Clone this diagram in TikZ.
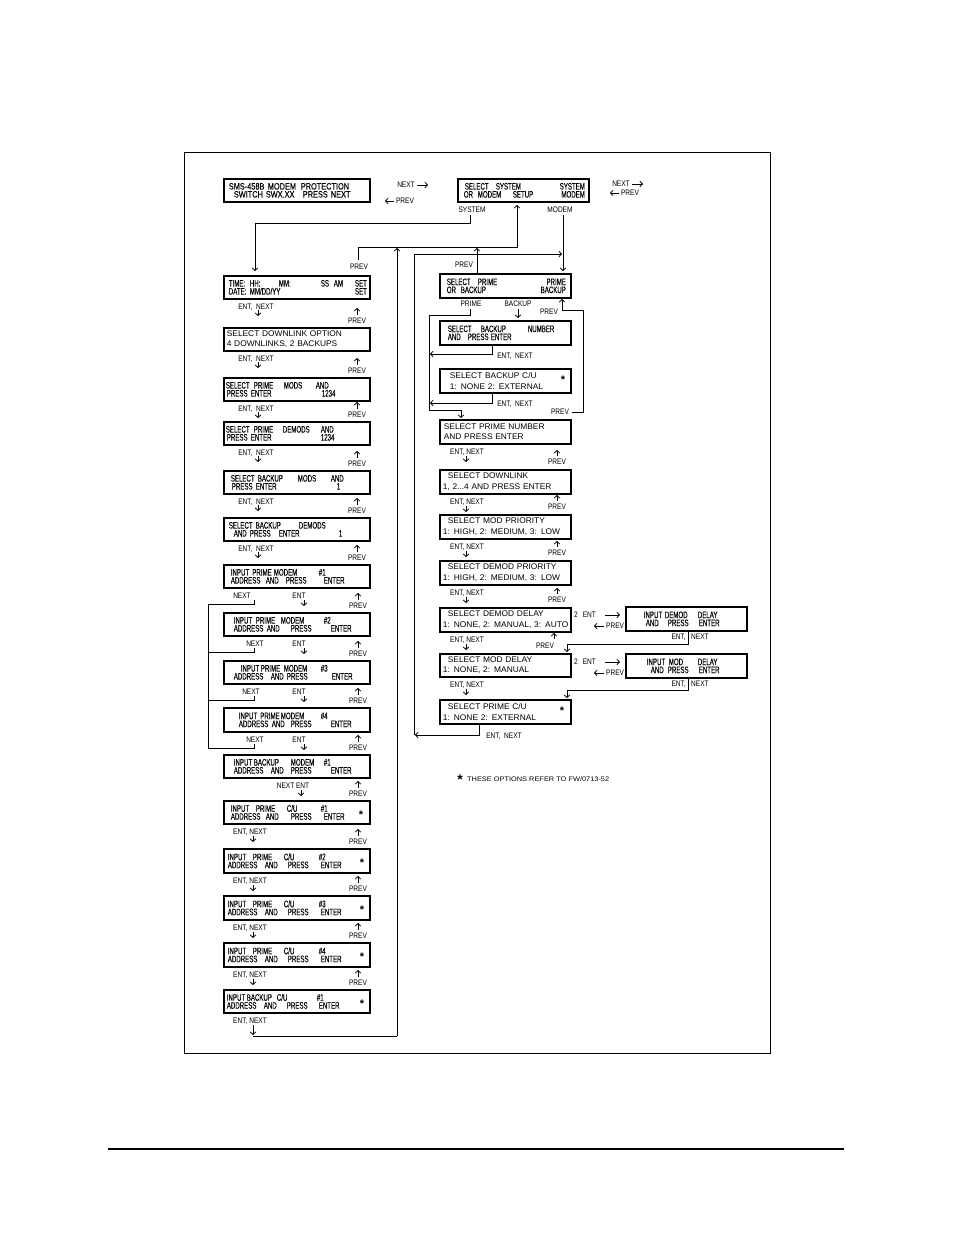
\documentclass[tikz,border=0pt]{standalone}
\usepackage{fontspec}
\setmainfont{Liberation Sans}
\newfontfamily\nf[FakeStretch=0.65,FakeBold=0.15]{Liberation Sans}
\newfontfamily\mf[FakeStretch=0.8,FakeBold=0.15]{Liberation Sans}
\newfontfamily\lf[FakeStretch=0.82]{Liberation Sans}
\newfontfamily\rf[FakeStretch=1.02]{Liberation Sans}
\newfontfamily\wf[FakeStretch=1.12]{Liberation Sans}
\usetikzlibrary{arrows.meta}
\newcommand\tp[2]{\makebox[0pt][l]{\hspace*{#1pt}#2}}
\newcommand\tpr[2]{\makebox[0pt][l]{\hspace*{#1pt}\makebox[0pt][r]{#2}}}
\newcommand\nfs{\nf\fontsize{9.4}{8}\selectfont}
\newcommand\mfs{\mf\fontsize{9.2}{8}\selectfont}
\newcommand\rfs{\rf\fontsize{8.2}{10.5}\selectfont}
\newcommand\lfs{\lf\fontsize{8}{8}\selectfont}
\newcommand\ffs{\wf\fontsize{6.6}{7}\selectfont}
\tikzset{
  bx/.style={draw, line width=1.7pt, inner sep=0pt, anchor=north west, align=left, font=\nfs},
  rbx/.style={bx, font=\rfs},
  ln/.style={line width=0.8pt},
  arr/.style={ln, -{Straight Barb[length=2.5pt,width=5.5pt]}},
  lb/.style={inner sep=0pt, font=\lfs},
  st/.style={inner sep=0pt, anchor=base, font=\bfseries\fontsize{11}{11}\selectfont},
}
\newcommand\lbox[5][bx]{\node[#1,minimum width=146pt,text width=146pt,minimum height=#4pt] (#2) at (223,#3) {#5};}
\newcommand\rbox[5][rbx]{\node[#1,minimum width=131pt,text width=131pt,minimum height=#4pt] (#2) at (439,#3) {#5};}
\begin{document}
\begin{tikzpicture}[x=1pt,y=-1pt]
\useasboundingbox (0,0) rectangle (954,1235);
\draw[line width=0.9pt] (184,152) rectangle (770,1053);
\draw[line width=1.4pt] (108,1149) -- (844,1149);

% ---- top boxes
\node[bx,font=\mfs,minimum width=146pt,text width=146pt,minimum height=23pt] (A) at (223,178) {\tp{5}{SMS-458B}\tp{44}{MODEM}\tp{77}{PROTECTION}\\\tp{10}{SWITCH}\tp{42}{SWX.XX}\tp{79}{PRESS}\tp{107}{NEXT}};
\node[bx,minimum width=131pt,text width=131pt,minimum height=23pt] (B) at (457,178) {\tp{7}{SELECT}\tp{38}{SYSTEM}\tpr{127}{SYSTEM}\\\tp{6}{OR}\tp{20}{MODEM}\tp{55}{SETUP}\tpr{127}{MODEM}};
\node[lb] (n1) at (406,185) {NEXT}; \draw[arr] (417,185) -- (428,185);
\node[lb] (p1) at (405,201) {PREV}; \draw[arr] (394,201) -- (385,201);
\node[lb] (n2) at (621,184) {NEXT}; \draw[arr] (632,184) -- (643,184);
\node[lb] (p2) at (630,193) {PREV}; \draw[arr] (619,193) -- (610,193);
\node[lb] (sysl) at (472,210) {SYSTEM};
\node[lb] (modl) at (560,210) {MODEM};

% ---- left column boxes
\lbox{L1}{275}{23}{\tp{5}{TIME:}\tp{26}{HH:}\tp{55}{MM:}\tp{97}{SS}\tp{110}{AM}\tpr{143}{SET}\\\tp{5}{DATE:}\tp{26}{MM/DD/YY}\tpr{143}{SET}}
\lbox[rbx]{L2}{327}{23}{\tp{3}{SELECT DOWNLINK OPTION}\\\tp{3}{4 DOWNLINKS, 2 BACKUPS}}
\lbox{L3}{377}{23}{\tp{2}{SELECT}\tp{30}{PRIME}\tp{60}{MODS}\tp{92}{AND}\\\tp{3}{PRESS}\tp{27}{ENTER}\tp{98}{1234}}
\lbox{L4}{421}{23}{\tp{2}{SELECT}\tp{30}{PRIME}\tp{59}{DEMODS}\tp{97}{AND}\\\tp{3}{PRESS}\tp{27}{ENTER}\tp{97}{1234}}
\lbox{L5}{470}{23}{\tp{7}{SELECT}\tp{34}{BACKUP}\tp{74}{MODS}\tp{107}{AND}\\\tp{8}{PRESS}\tp{32}{ENTER}\tp{113}{1}}
\lbox{L6}{517}{23}{\tp{5}{SELECT BACKUP}\tp{75}{DEMODS}\\\tp{10}{AND PRESS}\tp{55}{ENTER}\tp{115}{1}}
\lbox{L7}{564}{23}{\tp{7}{INPUT PRIME}\tp{50}{MODEM}\tp{95}{\#1}\\\tp{7}{ADDRESS}\tp{42}{AND}\tp{62}{PRESS}\tp{100}{ENTER}}
\lbox{L8}{612}{23}{\tp{10}{INPUT}\tp{32}{PRIME}\tp{57}{MODEM}\tp{100}{\#2}\\\tp{10}{ADDRESS}\tp{43}{AND}\tp{67}{PRESS}\tp{107}{ENTER}}
\lbox{L9}{660}{23}{\tp{17}{INPUT}\tp{37}{PRIME}\tp{60}{MODEM}\tp{97}{\#3}\\\tp{10}{ADDRESS}\tp{47}{AND PRESS}\tp{108}{ENTER}}
\lbox{L10}{707}{24}{\tp{15}{INPUT PRIME}\tp{57}{MODEM}\tp{97}{\#4}\\\tp{15}{ADDRESS}\tp{48}{AND}\tp{67}{PRESS}\tp{107}{ENTER}}
\lbox{L11}{754}{23}{\tp{10}{INPUT}\tp{30}{BACKUP}\tp{67}{MODEM}\tp{100}{\#1}\\\tp{10}{ADDRESS}\tp{47}{AND}\tp{67}{PRESS}\tp{107}{ENTER}}
\lbox{L12}{800}{23}{\tp{7}{INPUT}\tp{32}{PRIME}\tp{63}{C/U}\tp{97}{\#1}\\\tp{7}{ADDRESS}\tp{42}{AND}\tp{67}{PRESS}\tp{100}{ENTER}}
\lbox{L13}{848}{24}{\tp{4}{INPUT}\tp{29}{PRIME}\tp{60}{C/U}\tp{95}{\#2}\\\tp{4}{ADDRESS}\tp{41}{AND}\tp{64}{PRESS}\tp{97}{ENTER}}
\lbox{L14}{895}{24}{\tp{4}{INPUT}\tp{29}{PRIME}\tp{60}{C/U}\tp{95}{\#3}\\\tp{4}{ADDRESS}\tp{41}{AND}\tp{64}{PRESS}\tp{97}{ENTER}}
\lbox{L15}{942}{24}{\tp{4}{INPUT}\tp{29}{PRIME}\tp{60}{C/U}\tp{95}{\#4}\\\tp{4}{ADDRESS}\tp{41}{AND}\tp{64}{PRESS}\tp{97}{ENTER}}
\lbox{L16}{989}{23}{\tp{3}{INPUT}\tp{23}{BACKUP}\tp{53}{C/U}\tp{93}{\#1}\\\tp{3}{ADDRESS}\tp{40}{AND}\tp{63}{PRESS}\tp{95}{ENTER}}
\node[st] (s12) at (361,818) {*};
\node[st] (s13) at (362,866) {*};
\node[st] (s14) at (362,913) {*};
\node[st] (s15) at (362,960) {*};
\node[st] (s16) at (362,1007) {*};

% ---- left column labels and arrows
\foreach \yb/\yt [count=\i] in {298/327,350/377,400/421,444/470,493/517,540/564}{
  \node[lb] (enA\i) at (256,\yb+9) {ENT,\ \ NEXT};
  \draw[arr] (258,\yb+12) -- (258,\yb+18);
  \node[lb] (pvA\i) at (357,\yt-6) {PREV};
  \draw[arr] (357,\yt-12) -- (357,\yt-19);
}
\foreach \yb/\yt/\xn [count=\i] in {587/612/242,635/660/255,683/707/251,731/754/255}{
  \node[lb] (nxB\i) at (\xn,\yb+9) {NEXT};
  \node[lb] (etB\i) at (299,\yb+9) {ENT};
  \draw[arr] (304,\yb+13) -- (304,\yb+19);
  \draw[ln] (254,\yb+13) -- (254,\yb+17) -- (208,\yb+17);
  \node[lb] (pvB\i) at (358,\yt-6) {PREV};
  \draw[arr] (358,\yt-12) -- (358,\yt-19);
}
\draw[ln] (208,604) -- (208,748);
\node[lb] (nxe) at (293,786) {NEXT ENT};
\draw[arr] (301,790) -- (301,796);
\node[lb] (pvB5) at (358,794) {PREV};
\draw[arr] (358,788) -- (358,781);
\foreach \yb/\yt [count=\i] in {823/848,872/895,919/942,966/989}{
  \node[lb] (enC\i) at (250,\yb+9) {ENT, NEXT};
  \draw[arr] (253,\yb+13) -- (253,\yb+19);
  \node[lb] (pvC\i) at (358,\yt-6) {PREV};
  \draw[arr] (358,\yt-12) -- (358,\yt-19);
}
\node[lb] (enD) at (250,1021) {ENT, NEXT};
\draw[arr] (253,1025) -- (253,1035);
\draw[ln] (253,1036) -- (397,1036);
\draw[arr] (397,1036) -- (397,248);

% ---- top routing
\draw[arr] (470,215) -- (470,223) -- (255,223) -- (255,271);
\node[lb] (pvT) at (359,267) {PREV};
\draw[arr] (358,260) -- (358,247) -- (517,247) -- (517,205);
\node[lb] (pvR0) at (464,265) {PREV};
\draw[arr] (477,273) -- (477,248);
\draw[arr] (563,215) -- (563,271);
\draw[arr] (414,735) -- (414,254) -- (562,254);

% ---- right column boxes
\rbox[bx]{R1}{273}{24}{\tp{7}{SELECT}\tp{38}{PRIME}\tpr{126}{PRIME}\\\tp{7}{OR}\tp{21}{BACKUP}\tpr{126}{BACKUP}}
\rbox[bx]{R2}{320}{24}{\tp{8}{SELECT}\tp{41}{BACKUP}\tp{88}{NUMBER}\\\tp{8}{AND}\tp{28}{PRESS}\tp{51}{ENTER}}
\rbox{R3}{368}{24}{\tp{10}{SELECT BACKUP C/U}\\\tp{10}{1: NONE 2: EXTERNAL}}
\rbox{R4}{419}{24}{\tp{4}{SELECT PRIME NUMBER}\\\tp{4}{AND PRESS ENTER}}
\rbox{R5}{469}{24}{\tp{8}{SELECT DOWNLINK}\\\tp{3}{1, 2...4 AND PRESS ENTER}}
\rbox{R6}{514}{24}{\tp{8}{SELECT MOD PRIORITY}\\\tp{3}{1: HIGH, 2: MEDIUM, 3: LOW}}
\rbox{R7}{560}{24}{\tp{8}{SELECT DEMOD PRIORITY}\\\tp{3}{1: HIGH, 2: MEDIUM, 3: LOW}}
\rbox{R8}{607}{24}{\tp{8}{SELECT DEMOD DELAY}\\\tp{3}{1: NONE, 2: MANUAL, 3: AUTO}}
\rbox{R9}{653}{23}{\tp{8}{SELECT MOD DELAY}\\\tp{3}{1: NONE, 2: MANUAL}}
\rbox{R10}{699}{24}{\tp{8}{SELECT PRIME C/U}\\\tp{3}{1: NONE 2: EXTERNAL}}
\node[st] (s3) at (563,383) {*};
\node[st] (s10) at (562,714) {*};
\node[bx,minimum width=121pt,text width=121pt,minimum height=24pt] (D1) at (625,606) {\tp{18}{INPUT}\tp{39}{DEMOD}\tp{72}{DELAY}\\\tp{20}{AND}\tp{42}{PRESS}\tp{73}{ENTER}};
\node[bx,minimum width=121pt,text width=121pt,minimum height=24pt] (D2) at (625,653) {\tp{21}{INPUT}\tp{43}{MOD}\tp{72}{DELAY}\\\tp{25}{AND}\tp{42}{PRESS}\tp{73}{ENTER}};

% ---- right column labels and arrows
\node[lb] (prl) at (471,304) {PRIME};
\node[lb] (bkl) at (518,304) {BACKUP};
\node[lb] (pvR1) at (549,312) {PREV};
\draw[arr] (470,309) -- (470,315) -- (429,315) -- (429,410) -- (461,410) -- (461,418);
\draw[arr] (518,309) -- (518,318);
\draw[arr] (492,344) -- (492,354) -- (430,354);
\node[lb] (enR2) at (515,356) {ENT,\ \ NEXT};
\draw[arr] (492,392) -- (492,403) -- (430,403);
\node[lb] (enR3) at (515,404) {ENT,\ \ NEXT};
\node[lb] (pvR3) at (560,412) {PREV};
\draw[arr] (572,412) -- (583,412) -- (583,310) -- (562,310) -- (562,299);
\foreach \yb/\yt [count=\i] in {443/469,493/514,538/560,584/607}{
  \node[lb] (enE\i) at (467,\yb+9) {ENT, NEXT};
  \draw[arr] (466,\yb+13) -- (466,\yb+19);
  \node[lb] (pvE\i) at (557,\yt-7) {PREV};
  \draw[arr] (557,\yt-13) -- (557,\yt-19);
}
\node[lb] (enF1) at (467,640) {ENT, NEXT};
\draw[arr] (466,644) -- (466,650);
\node[lb] (pvF1) at (545,646) {PREV};
\draw[arr] (554,639) -- (554,633);
\node[lb] (enF2) at (467,685) {ENT, NEXT};
\draw[arr] (466,689) -- (466,695);
\node[lb] (enF3) at (504,736) {ENT,\ \ NEXT};
\draw[arr] (479,723) -- (479,735) -- (415,735);

% ---- delay branches
\node[lb,anchor=west] (e2a) at (574,615) {2\hspace{5pt}ENT};
\draw[arr] (605,615) -- (620,615);
\node[lb,anchor=west] (pva) at (606,626) {PREV};
\draw[arr] (604,626) -- (594,626);
\node[lb,anchor=east] (ena) at (686,637) {ENT,};
\node[lb,anchor=west] (nxa) at (691,637) {NEXT};
\draw[arr] (688,630) -- (688,644) -- (567,644) -- (567,652);
\node[lb,anchor=west] (e2b) at (574,662) {2\hspace{5pt}ENT};
\draw[arr] (605,662) -- (620,662);
\node[lb,anchor=west] (pvb) at (606,673) {PREV};
\draw[arr] (604,673) -- (594,673);
\node[lb,anchor=east] (enb) at (686,684) {ENT,};
\node[lb,anchor=west] (nxb) at (691,684) {NEXT};
\draw[arr] (688,677) -- (688,690) -- (567,690) -- (567,698);

% ---- footnote
\node[st,font=\bfseries\fontsize{14}{14}\selectfont] (fst) at (460,784) {*};
\node[anchor=west,font=\ffs,inner sep=0pt] (fn) at (467,779) {THESE OPTIONS REFER TO FW/0713-52};
\end{tikzpicture}
\end{document}
